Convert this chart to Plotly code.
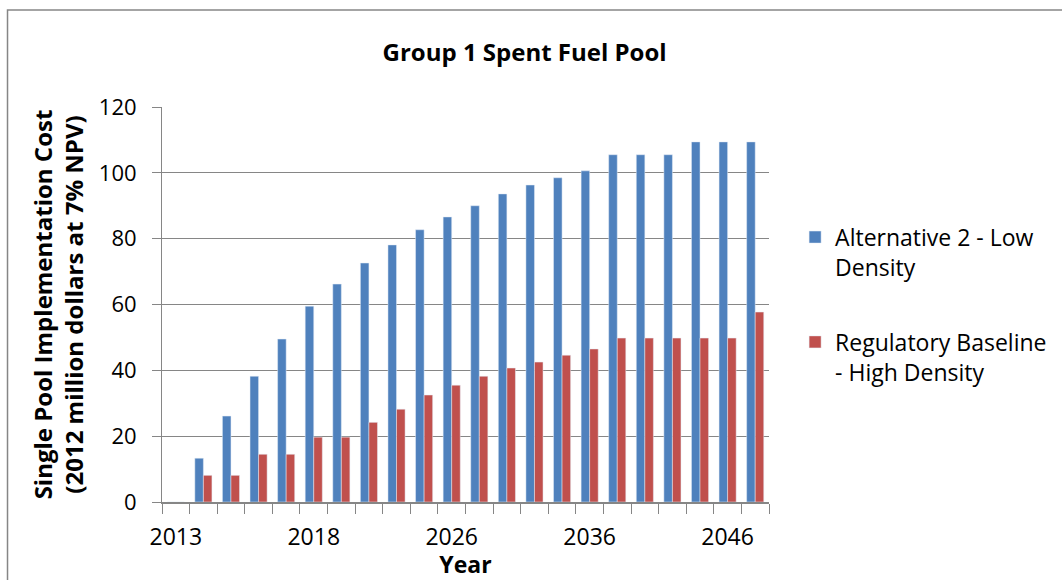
import plotly.graph_objects as go

# Category years (Excel shows every 5th label)
years = ["2013", "2014", "2015", "2016", "2017", "2018", "2019", "2020", "2022", "2024",
         "2026", "2028", "2030", "2032", "2034", "2036", "2038", "2040", "2042", "2044",
         "2046", "2048"]
shown_labels = ["2013", "2018", "2026", "2036", "2046"]

# Single pool implementation cost (2012 million dollars at 7% NPV)
alt2_low = [0, 13.3, 26.1, 38.2, 49.5, 59.5, 66.2, 72.6, 78.1, 82.7,
            86.6, 90.0, 93.6, 96.3, 98.5, 100.6, 105.5, 105.5, 105.5, 109.4,
            109.4, 109.4]
baseline_high = [0, 8.1, 8.1, 14.5, 14.5, 19.7, 19.7, 24.2, 28.2, 32.5,
                 35.5, 38.2, 40.7, 42.5, 44.6, 46.5, 49.8, 49.8, 49.8, 49.8,
                 49.8, 57.7]

tick_text = [y if y in shown_labels else "" for y in years]

FONT = "Open Sans"
GRAY = "#868686"

fig = go.Figure()
fig.add_trace(go.Bar(
    x=years, y=alt2_low,
    name="Alternative 2 - Low<br>Density",
    marker_color="#4F81BD",
    legendgroup="a"
))
fig.add_trace(go.Bar(
    x=years, y=baseline_high,
    name="Regulatory Baseline<br>- High Density",
    marker_color="#C0504D",
    legendgroup="b"
))

fig.update_layout(
    width=1062, height=580,
    margin=dict(l=162, r=293, t=107, b=78, autoexpand=False),
    plot_bgcolor="white", paper_bgcolor="white",
    barmode="group", bargap=0.38, bargroupgap=0,
    font=dict(family=FONT, size=20, color="black"),
    title=dict(text="<b>Group 1 Spent Fuel Pool</b>", x=0.494, xanchor="center",
               y=0.91, yanchor="middle", font=dict(family=FONT, size=24, color="black")),
    legend=dict(x=1.043, y=0.725, xanchor="left", yanchor="top", valign="top",
                font=dict(family=FONT, size=23, color="black"),
                tracegroupgap=42, bgcolor="rgba(0,0,0,0)"),
    showlegend=True,
)

fig.update_xaxes(
    type="category",
    tickmode="array", tickvals=years, ticktext=tick_text,
    tickson="boundaries", tickangle=0,
    ticks="outside", ticklen=10, tickcolor=GRAY, tickwidth=1,
    ticklabelstandoff=13,
    showline=True, linecolor=GRAY, linewidth=2,
    showgrid=False, automargin=False,
    tickfont=dict(family=FONT, size=23, color="black"),
    title=dict(text="<b>Year</b>", font=dict(family=FONT, size=23, color="black"), standoff=2),
)

fig.update_yaxes(
    range=[0, 120], dtick=20,
    ticks="outside", ticklen=9, tickcolor=GRAY, tickwidth=1,
    ticklabelstandoff=11,
    showline=True, linecolor=GRAY, linewidth=1,
    showgrid=True, gridcolor=GRAY, gridwidth=1,
    zeroline=False, automargin=False,
    tickfont=dict(family=FONT, size=22, color="black"),
    title=dict(text="<b>Single Pool Implementation Cost<br>(2012 million dollars at 7% NPV)</b>",
               font=dict(family=FONT, size=24, color="black"), standoff=8),
)

# Outer chart border (right and bottom edges fall outside the image)
fig.add_shape(type="rect", xref="paper", yref="paper",
              x0=-0.2545, y0=-0.25, x1=1.52, y1=1.2456,
              line=dict(color=GRAY, width=1.5), layer="below")

# drop the browser's default body margin so the chart sits at the page corner
fig.write_html("out.html", config={"displayModeBar": False},
               post_script="document.body.style.margin='0';")
